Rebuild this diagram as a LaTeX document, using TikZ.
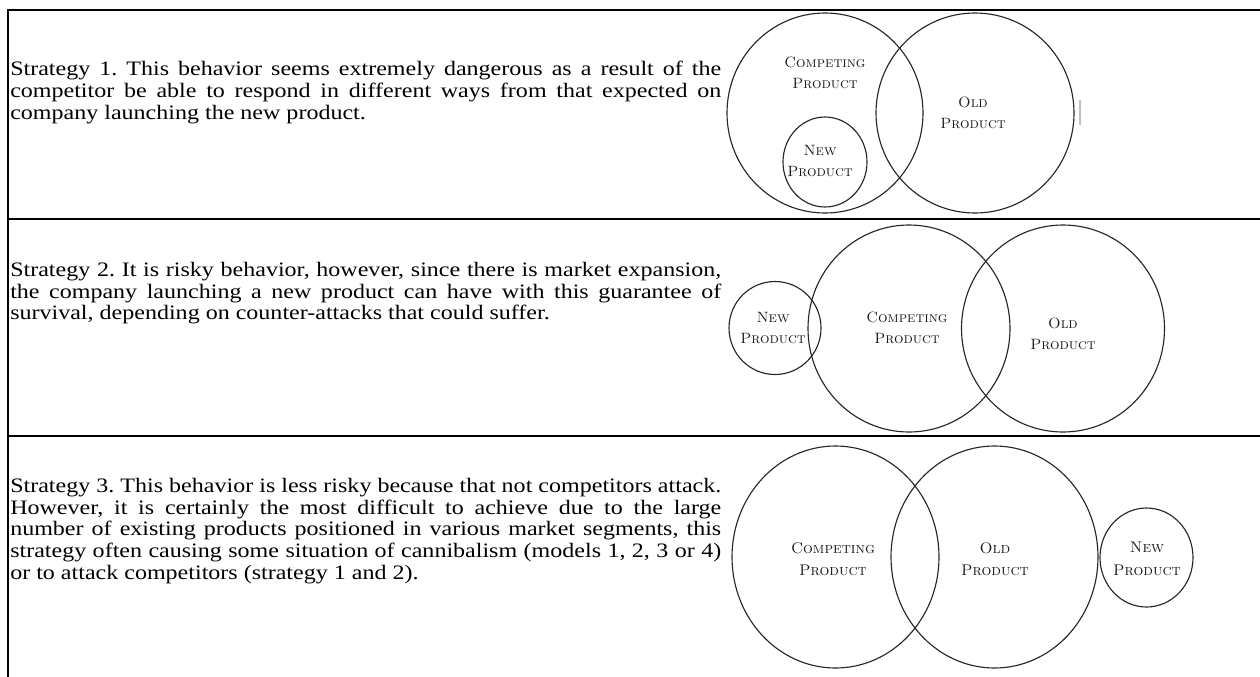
\documentclass[tikz,border=0pt]{standalone}
\usepackage{fontspec}
\newfontfamily\bodyfont[FakeStretch=1.17]{Liberation Serif}
\newcommand\justline[1]{\makebox[533.25pt][s]{#1}}
\tikzset{
  frame/.style={line width=1.5pt, line cap=rect},
  ring/.style={line width=0.85pt, draw=black!85},
  lbl/.style={align=center, inner sep=0pt, text=black!90, font=\fontsize{11.2}{15.5}\selectfont\scshape},
  lblwide/.style={lbl, font=\fontsize{11.6}{17}\selectfont\scshape},
  body/.style={anchor=north west, inner sep=0pt, align=left,
    font=\bodyfont\fontsize{15.4}{16.3}\selectfont\frenchspacing},
}
\begin{document}
\begin{tikzpicture}[x=0.75pt,y=-0.75pt]
\useasboundingbox (0,0) rectangle (1260,676);
% frame
\coordinate (tl) at (8,10);
\coordinate (bl) at (8,676);
\coordinate (tr) at (1260,10);
\coordinate (m1l) at (8,219);
\coordinate (m1r) at (1260,219);
\coordinate (m2l) at (8,436);
\coordinate (m2r) at (1260,436);
\draw[frame] (bl) -- (tl) -- (tr);
\draw[frame] (m1l) -- (m1r);
\draw[frame] (m2l) -- (m2r);

% texts
\node[body] (t1) at (10,61) {\justline{Strategy 1. This behavior seems extremely dangerous as a result of the}\\
\justline{competitor be able to respond in different ways from that expected on}\\
company launching the new product.};
\node[body] (t2) at (10,262) {\justline{Strategy 2. It is risky behavior, however, since there is market expansion,}\\
\justline{the company launching a new product can have with this guarantee of}\\
survival, depending on counter-attacks that could suffer.};
\node[body] (t3) at (10,478) {\justline{Strategy 3. This behavior is less risky because that not competitors attack.}\\
\justline{However, it is certainly the most difficult to achieve due to the large}\\
\justline{number of existing products positioned in various market segments, this}\\
\justline{strategy often causing some situation of cannibalism (models 1, 2, 3 or 4)}\\
or to attack competitors (strategy 1 and 2).};

% row 1 circles
\coordinate (c1) at (825,113);
\coordinate (o1) at (975,113);
\coordinate (n1) at (825,162);
\draw[ring] (c1) ellipse [x radius=98, y radius=100];
\draw[ring] (o1) ellipse [x radius=99, y radius=100];
\draw[ring] (n1) ellipse [x radius=42, y radius=45];
\node[lbl] (lc1) at (825,73) {Competing\\Product};
\node[lbl] (lo1) at (973,113) {Old\\Product};
\node[lbl] (ln1) at (820,161) {New\\Product};
\draw[line width=1.6pt, gray!50] (1080,100) -- (1080,125);

% row 2 circles
\coordinate (n2) at (775,328);
\coordinate (c2) at (909,328.5);
\coordinate (o2) at (1063,328.5);
\draw[ring] (n2) ellipse [x radius=46, y radius=46.5];
\draw[ring] (c2) ellipse [x radius=101, y radius=103.5];
\draw[ring] (o2) ellipse [x radius=101.5, y radius=103.5];
\node[lbl] (ln2) at (773,328) {New\\Product};
\node[lbl] (lc2) at (907,328) {Competing\\Product};
\node[lbl] (lo2) at (1063,334) {Old\\Product};

% row 3 circles
\coordinate (c3) at (835.5,557);
\coordinate (o3) at (994.5,557);
\coordinate (n3) at (1146.5,557.5);
\draw[ring] (c3) ellipse [x radius=103.5, y radius=111];
\draw[ring] (o3) ellipse [x radius=103.5, y radius=111];
\draw[ring] (n3) ellipse [x radius=46.5, y radius=49.5];
\node[lblwide] (lc3) at (833,559) {Competing\\Product};
\node[lblwide] (lo3) at (995,559) {Old\\Product};
\node[lblwide] (ln3) at (1147,559) {New\\Product};
\end{tikzpicture}
\end{document}
